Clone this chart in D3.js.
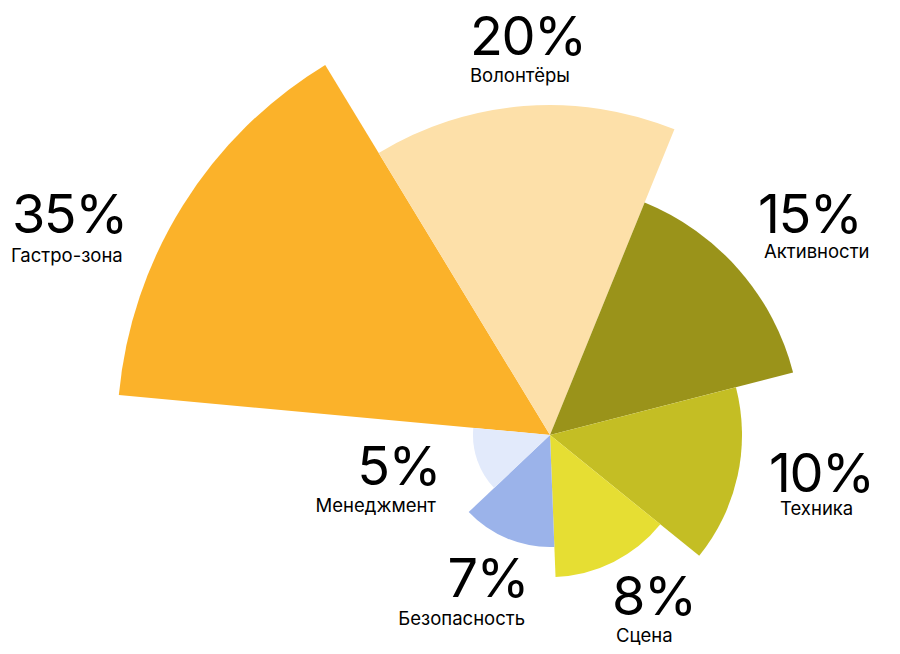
<!DOCTYPE html>
<html>
<head>
<meta charset="utf-8">
<script src="https://cdn.jsdelivr.net/npm/d3@7"></script>
<style>
  html, body { margin: 0; padding: 0; background: #fff; }
  svg text { font-family: Inter, "Noto Sans", sans-serif; fill: #000; }
  .pct { font-size: 54px; font-weight: 400; letter-spacing: -1.5px; }
  .name { font-size: 18.5px; font-weight: 400; }
</style>
</head>
<body>
<div id="chart"></div>
<script>
// data, clockwise from the left edge of the big slice
var categories = ["Гастро-зона", "Волонтёры", "Активности", "Техника", "Сцена", "Безопасность", "Менеджмент"];
var shares = [35, 20, 15, 10, 8, 7, 5];
var pctLabels = ["35%", "20%", "15%", "10%", "8%", "7%", "5%"];

var width = 900, height = 654;
var cx = 550, cy = 435;

var palette = ["#fbb22a", "#fde0a9", "#9a931a", "#c4be24", "#e6de33", "#9bb3ea", "#e2eafb"];
var color = d3.scaleOrdinal().domain(categories).range(palette);

// slice edges in degrees (first four are a bit wider than the last three)
var toRad = Math.PI / 180;
var angle = d3.scaleLinear()
  .domain([0, 4, categories.length])
  .range([-84.7 * toRad, 129 * toRad, 275.3 * toRad]);

// outer radius per share
var radius = d3.scaleLinear()
  .domain([5, 7, 8, 10, 15, 20, 35])
  .range([77, 112, 142, 192, 251, 330, 433]);

// text placement, hand tuned like the design
var labelLayout = {
  "Гастро-зона":  {anchor: "start", px: 12,  py: 233, nx: 11,  ny: 262},
  "Волонтёры":    {anchor: "start", px: 470, py: 55,  nx: 470, ny: 82},
  "Активности":   {anchor: "start", px: 758, py: 233, nx: 764, ny: 258},
  "Техника":      {anchor: "start", px: 769, py: 492, nx: 780, ny: 515},
  "Сцена":        {anchor: "start", px: 612, py: 615, nx: 616, ny: 642},
  "Безопасность": {anchor: "end",   px: 528, py: 597, nx: 525, ny: 625},
  "Менеджмент":   {anchor: "end",   px: 440, py: 485, nx: 436, ny: 512}
};

var data = categories.map(function (c, i) {
  return {name: c, value: shares[i], pct: pctLabels[i], i: i};
});

var svg = d3.select("#chart").append("svg")
  .attr("width", width)
  .attr("height", height);

var arc = d3.arc()
  .innerRadius(0)
  .outerRadius(function (d) { return radius(d.value); })
  .startAngle(function (d) { return angle(d.i); })
  .endAngle(function (d) { return angle(d.i + 1); });

var g = svg.append("g")
  .attr("transform", "translate(" + cx + "," + cy + ")");

g.selectAll(".slice")
  .data(data)
  .enter()
  .append("path")
    .attr("class", "slice")
    .attr("d", arc)
    .attr("fill", function (d) { return color(d.name); });

var labels = svg.selectAll(".label")
  .data(data)
  .enter()
  .append("g")
    .attr("class", "label");

labels.append("text")
  .attr("class", "pct")
  .attr("x", function (d) { return labelLayout[d.name].px; })
  .attr("y", function (d) { return labelLayout[d.name].py; })
  .attr("text-anchor", function (d) { return labelLayout[d.name].anchor; })
  .text(function (d) { return d.pct; });

labels.append("text")
  .attr("class", "name")
  .attr("x", function (d) { return labelLayout[d.name].nx; })
  .attr("y", function (d) { return labelLayout[d.name].ny; })
  .attr("text-anchor", function (d) { return labelLayout[d.name].anchor; })
  .text(function (d) { return d.name; });
</script>
</body>
</html>
